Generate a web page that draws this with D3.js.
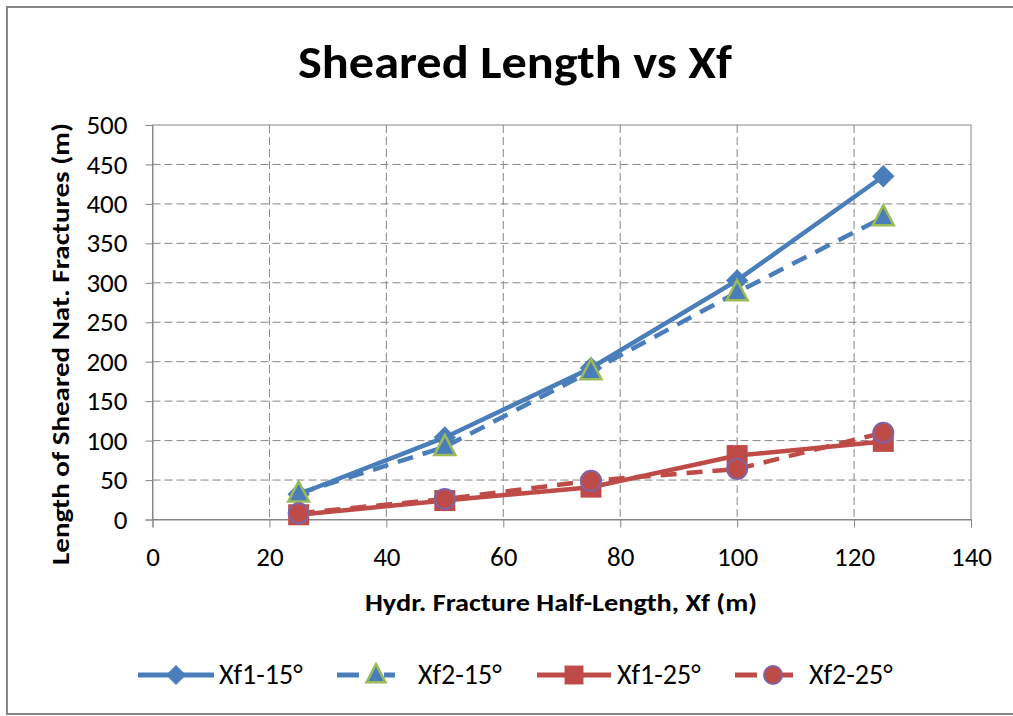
<!DOCTYPE html>
<html>
<head>
<meta charset="utf-8">
<script src="https://cdn.jsdelivr.net/npm/d3@7"></script>
<style>
  body { margin: 0; background: #fff; }
  text { font-family: Carlito, Calibri, Lato, "Open Sans", sans-serif; fill: #000; }
</style>
</head>
<body>
<svg id="chart" width="1013" height="716"></svg>
<script>
// data
const xfValues = [25, 50, 75, 100, 125];
const xf1_15 = [32, 104, 192, 303, 435];
const xf2_15 = [33, 92, 188, 288, 383];
const xf1_25 = [6, 24, 41, 81, 99];
const xf2_25 = [8, 26, 49, 64, 110];
const xTicks = [0, 20, 40, 60, 80, 100, 120, 140];
const yTicks = [0, 50, 100, 150, 200, 250, 300, 350, 400, 450, 500];
const seriesNames = ["Xf1-15°", "Xf2-15°", "Xf1-25°", "Xf2-25°"];

const blue = "#4a7ebb", red = "#be4b48";

const series = [
  { name: seriesNames[0], values: xf1_15, color: blue, dash: null, marker: "diamond" },
  { name: seriesNames[1], values: xf2_15, color: blue, dash: "16,10", marker: "triangle", outline: "#9bbb59" },
  { name: seriesNames[2], values: xf1_25, color: red, dash: null, marker: "square" },
  { name: seriesNames[3], values: xf2_25, color: red, dash: "16,10", marker: "circle", outline: "#8064a2" }
];

const svg = d3.select("#chart");
const plotLeft = 152.5, plotRight = 971, plotTop = 125, plotBottom = 519.5;

// outer chart border
svg.append("rect")
  .attr("x", 7).attr("y", 7).attr("width", 1020).attr("height", 707)
  .attr("fill", "none").attr("stroke", "#868686").attr("stroke-width", 2);

const x = d3.scaleLinear().domain([0, 140]).range([plotLeft, plotRight]);
const y = d3.scaleLinear().domain([0, 500]).range([plotBottom, plotTop]);

// gridlines
const grid = svg.append("g");
grid.selectAll("line.h").data(yTicks.slice(1, -1)).enter().append("line")
  .attr("x1", plotLeft).attr("x2", plotRight)
  .attr("y1", d => y(d)).attr("y2", d => y(d))
  .attr("stroke", "#868686").attr("stroke-dasharray", "8,4");
grid.selectAll("line.v").data(xTicks.slice(1, -1)).enter().append("line")
  .attr("y1", plotTop).attr("y2", plotBottom)
  .attr("x1", d => x(d)).attr("x2", d => x(d))
  .attr("stroke", "#868686").attr("stroke-dasharray", "8,4");

// plot frame
svg.append("rect")
  .attr("x", plotLeft).attr("y", plotTop).attr("width", plotRight - plotLeft).attr("height", plotBottom - plotTop)
  .attr("fill", "none").attr("stroke", "#868686").attr("stroke-width", 1);

// axes
const xAxis = svg.append("g").attr("transform", `translate(0,${plotBottom})`)
  .call(d3.axisBottom(x).tickValues(xTicks).tickSize(8).tickPadding(19));
const yAxis = svg.append("g").attr("transform", `translate(${plotLeft},0)`)
  .call(d3.axisLeft(y).tickValues(yTicks).tickSize(7).tickPadding(18));
[xAxis, yAxis].forEach(a => {
  a.selectAll("path").attr("stroke", "#868686");
  a.selectAll("line").attr("stroke", "#868686");
  a.selectAll("text").attr("font-size", 27).attr("fill", "#222")
    .style("font-family", "Carlito, Calibri, Lato, sans-serif");
});

// titles
svg.append("text").attr("x", 515).attr("y", 78).attr("text-anchor", "middle")
  .attr("font-size", 46).attr("font-weight", "bold")
  .attr("textLength", 434).attr("lengthAdjust", "spacingAndGlyphs")
  .text("Sheared Length vs Xf");
svg.append("text").attr("x", 561).attr("y", 611).attr("text-anchor", "middle")
  .attr("font-size", 25).attr("font-weight", "bold")
  .attr("textLength", 392).attr("lengthAdjust", "spacingAndGlyphs")
  .text("Hydr. Fracture Half-Length, Xf (m)");
svg.append("text").attr("transform", "translate(69,344) rotate(-90)").attr("text-anchor", "middle")
  .attr("font-size", 25).attr("font-weight", "bold")
  .attr("textLength", 442).attr("lengthAdjust", "spacingAndGlyphs")
  .text("Length of Sheared Nat. Fractures (m)");

function drawMarker(g, s, cx, cy, k) {
  if (s.marker === "diamond") {
    g.append("path").attr("d", d3.symbol(d3.symbolSquare, 250 * k * k)())
      .attr("transform", `translate(${cx},${cy}) rotate(45)`).attr("fill", s.color);
  } else if (s.marker === "triangle") {
    const h = 20 * k, w = 21 * k;
    g.append("path").attr("d", `M${cx},${cy - h * 0.6}L${cx + w / 2},${cy + h * 0.4}L${cx - w / 2},${cy + h * 0.4}Z`)
      .attr("fill", s.color).attr("stroke", s.outline).attr("stroke-width", 2.5);
  } else if (s.marker === "square") {
    const a = 21 * k;
    g.append("rect").attr("x", cx - a / 2).attr("y", cy - a / 2).attr("width", a).attr("height", a)
      .attr("fill", s.color);
  } else {
    g.append("circle").attr("cx", cx).attr("cy", cy).attr("r", 10 * k)
      .attr("fill", s.color).attr("stroke", s.outline).attr("stroke-width", 2);
  }
}

const line = d3.line().x((d, i) => x(xfValues[i])).y(d => y(d));

series.forEach(s => {
  const g = svg.append("g");
  g.append("path").attr("d", line(s.values))
    .attr("fill", "none").attr("stroke", s.color).attr("stroke-width", 4.5)
    .attr("stroke-dasharray", s.dash);
  s.values.forEach((v, i) => drawMarker(g, s, x(xfValues[i]), y(v), 1));
});

// legend
const legendX = [138, 337, 537, 735];
const legendW = [76, 58, 74, 58];
const legendMarkerX = [176, 376, 574, 773];
const legendText = [219, 418, 617, 809];
const ly = 675;
series.forEach((s, i) => {
  const g = svg.append("g");
  g.append("line").attr("x1", legendX[i]).attr("x2", legendX[i] + legendW[i])
    .attr("y1", ly).attr("y2", ly)
    .attr("stroke", s.color).attr("stroke-width", 5)
    .attr("stroke-dasharray", s.dash ? "22,36" : null);
  if (s.dash) {
    g.append("line").attr("x1", legendMarkerX[i] + 8).attr("x2", legendX[i] + legendW[i])
      .attr("y1", ly).attr("y2", ly)
      .attr("stroke", s.color).attr("stroke-width", 5);
  }
  drawMarker(g, s, legendMarkerX[i], ly, 0.9);
  g.append("text").attr("x", legendText[i]).attr("y", ly).attr("dy", "0.33em")
    .attr("font-size", 28).text(s.name);
});
</script>
</body>
</html>
